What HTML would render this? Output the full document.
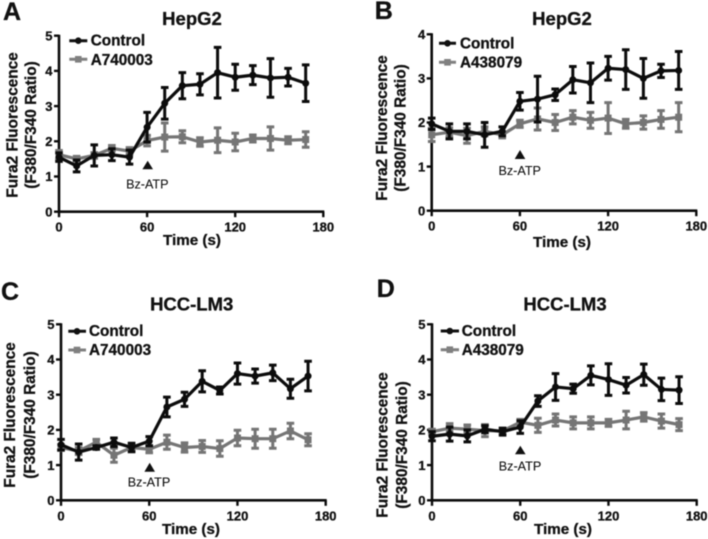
<!DOCTYPE html>
<html lang="en">
<head>
<meta charset="utf-8">
<title>Fura2 Fluorescence panels</title>
<style>
html,body{margin:0;padding:0;background:#fff}
svg{display:block;filter:blur(.4px)}
text{font-family:"Liberation Sans",sans-serif;font-weight:bold;fill:#111;stroke:#111;stroke-width:.3px}
.letter{font-size:25px}
.title{font-size:18.5px;text-anchor:middle}
.ytitle{font-size:15.4px;text-anchor:middle}
.xtitle{font-size:15.2px;text-anchor:middle}
.legend{font-size:15.3px}
.bz{font-size:12.6px;font-weight:normal;text-anchor:middle;stroke-width:.1px}
.tick{font-size:13px}
</style>
</head>
<body>
<svg id="fig" xmlns="http://www.w3.org/2000/svg" width="708" height="539" viewBox="0 0 708 539">
<rect width="708" height="539" fill="#fff"/>

<g id="panel-a">
<text class="letter" x="3" y="20">A</text>
<text class="title" x="192" y="25">HepG2</text>
<text class="ytitle" transform="translate(17.3 125) rotate(-90)">Fura2 Fluorescence</text>
<text class="ytitle" transform="translate(36 125) rotate(-90)">(F380/F340 Ratio)</text>
<text class="xtitle" x="192" y="245">Time (s)</text>
<g>
<line x1="69.3" x2="87.3" y1="40.7" y2="40.7" stroke="#111" stroke-width="3"/><circle cx="78.3" cy="40.7" r="3.3" fill="#111"/>
<text class="legend" x="90.7" y="45.7">Control</text></g>
<g>
<line x1="69.3" x2="87.3" y1="59.3" y2="59.3" stroke="#808080" stroke-width="3"/><rect x="75" y="56" width="6.6" height="6.6" fill="#808080"/>
<text class="legend" x="90.7" y="65">A740003</text></g>
<polygon points="147.7,160.7 153,169.3 142.4,169.3" fill="#111"/>
<text class="bz" x="147.3" y="188.3">Bz-ATP</text>
</g>

<g id="panel-b">
<text class="letter" x="374.7" y="19">B</text>
<text class="title" x="562" y="25">HepG2</text>
<text class="ytitle" transform="translate(387 128) rotate(-90)">Fura2 Fluorescence</text>
<text class="ytitle" transform="translate(405.7 128) rotate(-90)">(F380/F340 Ratio)</text>
<text class="xtitle" x="562" y="247">Time (s)</text>
<g>
<line x1="439" x2="456" y1="43.3" y2="43.3" stroke="#111" stroke-width="3"/><circle cx="447.5" cy="43.3" r="3.3" fill="#111"/>
<text class="legend" x="460" y="48.3">Control</text></g>
<g>
<line x1="439" x2="456" y1="62.3" y2="62.3" stroke="#808080" stroke-width="3"/><rect x="444.2" y="59" width="6.6" height="6.6" fill="#808080"/>
<text class="legend" x="460" y="67.7">A438079</text></g>
<polygon points="520,150 525.3,159 514.7,159" fill="#111"/>
<text class="bz" x="519.7" y="175">Bz-ATP</text>
</g>

<g id="panel-c">
<text class="letter" x="1" y="300">C</text>
<text class="title" x="191.7" y="310.7">HCC-LM3</text>
<text class="ytitle" transform="translate(15 415) rotate(-90)">Fura2 Fluorescence</text>
<text class="ytitle" transform="translate(35 415) rotate(-90)">(F380/F340 Ratio)</text>
<text class="xtitle" x="191" y="534">Time (s)</text>
<g>
<line x1="68.3" x2="86" y1="331.3" y2="331.3" stroke="#111" stroke-width="3"/><circle cx="77" cy="331.3" r="3.3" fill="#111"/>
<text class="legend" x="89" y="336">Control</text></g>
<g>
<line x1="68.3" x2="86" y1="350" y2="350" stroke="#808080" stroke-width="3"/><rect x="73.7" y="346.7" width="6.6" height="6.6" fill="#808080"/>
<text class="legend" x="89" y="355">A740003</text></g>
<polygon points="149.7,462.7 155,471.7 144.4,471.7" fill="#111"/>
<text class="bz" x="149" y="486.7">Bz-ATP</text>
</g>

<g id="panel-d">
<text class="letter" x="376.7" y="297">D</text>
<text class="title" x="565" y="310.7">HCC-LM3</text>
<text class="ytitle" transform="translate(387.3 445) rotate(-90)">Fura2 Fluorescence</text>
<text class="ytitle" transform="translate(407 445) rotate(-90)">(F380/F340 Ratio)</text>
<text class="xtitle" x="563" y="534">Time (s)</text>
<g>
<line x1="440.7" x2="459" y1="331" y2="331" stroke="#111" stroke-width="3"/><circle cx="449.8" cy="331" r="3.3" fill="#111"/>
<text class="legend" x="461.7" y="336">Control</text></g>
<g>
<line x1="440.7" x2="459" y1="349.7" y2="349.7" stroke="#808080" stroke-width="3"/><rect x="446.5" y="346.4" width="6.6" height="6.6" fill="#808080"/>
<text class="legend" x="461.7" y="355">A438079</text></g>
<polygon points="520.3,445.7 525.6,454.3 515,454.3" fill="#111"/>
<text class="bz" x="520" y="470.7">Bz-ATP</text>
</g>
</svg>

<script>
const times = [0,12,24,36,48,60,72,84,96,108,120,132,144,156,168];
const xTickLabels = [0,60,120,180];
const yTickLabelsFive = [0,1,2,3,4,5];
const yTickLabelsFour = [0,1,2,3,4];

const aControl = [1.55,1.3,1.6,1.62,1.55,2.4,3.08,3.58,3.62,3.95,3.82,3.88,3.8,3.82,3.65];
const aControlErr = [.12,.17,.3,.17,.2,.42,.45,.37,.3,.72,.37,.27,.55,.25,.52];
const aTreatment = [1.62,1.5,1.6,1.8,1.72,2.02,2.12,2.13,1.98,2.03,1.98,2.08,2.08,2.03,2.05];
const aTreatmentErr = [.12,.07,.08,.08,.1,.15,.4,.17,.12,.35,.25,.1,.33,.1,.22];

const bControl = [1.97,1.8,1.8,1.72,1.8,2.48,2.53,2.63,2.97,2.9,3.23,3.2,3.0,3.17,3.18];
const bControlErr = [.13,.17,.17,.28,.1,.2,.52,.13,.3,.45,.27,.45,.45,.15,.43];
const bTreatment = [1.72,1.78,1.7,1.8,1.72,1.97,2.08,2.0,2.12,2.05,2.1,1.97,2.0,2.07,2.12];
const bTreatmentErr = [.15,.1,.17,.1,.07,.08,.25,.18,.15,.18,.35,.1,.15,.2,.33];

const cControl = [1.58,1.37,1.5,1.65,1.5,1.68,2.65,2.87,3.38,3.12,3.6,3.53,3.62,3.17,3.53];
const cControlErr = [.15,.23,.05,.12,.12,.13,.28,.2,.3,.1,.3,.2,.22,.27,.42];
const cTreatment = [1.5,1.4,1.65,1.28,1.5,1.45,1.65,1.5,1.53,1.47,1.77,1.75,1.75,1.97,1.72];
const cTreatmentErr = [.08,.1,.08,.2,.1,.1,.2,.13,.17,.22,.22,.27,.27,.22,.17];

const dControl = [1.82,1.88,1.83,2.02,1.95,2.08,2.82,3.22,3.17,3.55,3.43,3.27,3.57,3.15,3.13];
const dControlErr = [.13,.2,.17,.1,.1,.18,.15,.38,.13,.27,.45,.22,.3,.32,.38];
const dTreatment = [1.95,2.05,2.02,1.98,1.97,2.22,2.13,2.28,2.2,2.2,2.2,2.28,2.37,2.25,2.15];
const dTreatmentErr = [.07,.13,.12,.17,.07,.08,.2,.17,.17,.17,.1,.25,.12,.2,.17];

const SVG_NS = 'http://www.w3.org/2000/svg';
const BLACK = '#0c0c0c';
const GRAY = '#757575';

function make(parent, tag, attrs) {
  const el = document.createElementNS(SVG_NS, tag);
  for (const k in attrs) el.setAttribute(k, attrs[k]);
  parent.appendChild(el);
  return el;
}

function drawSeries(group, xs, ys, values, errors, color, isSquare, key) {
  const s = make(group, 'g', {});
  
  
  const pts = values.map((v, i) => xs(times[i]) + ',' + ys(v)).join(' ');
  const line = make(s, 'polyline', {points: pts, fill: 'none', stroke: color, 'stroke-width': 3.2, 'stroke-linejoin': 'round'});
  
  
  values.forEach((v, i) => {
    const x = xs(times[i]);
    const hi = ys(v + errors[i]);
    const lo = ys(v - errors[i]);
    const d = 'M' + x + ' ' + hi + 'V' + lo + 'M' + (x - 3.8) + ' ' + hi + 'H' + (x + 3.8) + 'M' + (x - 3.8) + ' ' + lo + 'H' + (x + 3.8);
    const bar = make(s, 'path', {d: d, fill: 'none', stroke: color, 'stroke-width': 3});
    
    
    let m;
    if (isSquare) {
      m = make(s, 'rect', {x: x - 3.5, y: ys(v) - 3.5, width: 7, height: 7, fill: color});
    } else {
      m = make(s, 'circle', {cx: x, cy: ys(v), r: 3.5, fill: color});
    }
    
    
  });
}

function drawPanel(id, left, right, bottom, top, yTicks, control, controlErr, treatment, treatmentErr) {
  const group = document.getElementById('panel-' + id);
  const yMax = yTicks[yTicks.length - 1];
  const xs = t => left + (right - left) * t / 180;
  const ys = v => bottom - (bottom - top) * v / yMax;

  const yAxis = make(group, 'line', {x1: left, x2: left, y1: top - 1, y2: bottom + 1, stroke: BLACK, 'stroke-width': 2.6});
  
  
  const xAxis = make(group, 'line', {x1: left - 1, x2: right + 1, y1: bottom, y2: bottom, stroke: BLACK, 'stroke-width': 2.6});
  
  

  yTicks.forEach(v => {
    const t = make(group, 'line', {x1: left - 5, x2: left, y1: ys(v), y2: ys(v), stroke: BLACK, 'stroke-width': 2.4});
    
    
    const l = make(group, 'text', {class: 'tick', x: left - 6.5, y: ys(v) + 4.7, 'text-anchor': 'end'});
    
    
    l.textContent = v;
  });
  xTickLabels.forEach(v => {
    const t = make(group, 'line', {x1: xs(v), x2: xs(v), y1: bottom, y2: bottom + 5.5, stroke: BLACK, 'stroke-width': 2.4});
    
    
    const l = make(group, 'text', {class: 'tick', x: xs(v), y: bottom + 20, 'text-anchor': 'middle'});
    
    
    l.textContent = v;
  });

  drawSeries(group, xs, ys, treatment, treatmentErr, GRAY, true, 'treatment-' + id);
  drawSeries(group, xs, ys, control, controlErr, BLACK, false, 'control-' + id);
}

drawPanel('a', 59, 323.3, 211.7, 35.7, yTickLabelsFive, aControl, aControlErr, aTreatment, aTreatmentErr);
drawPanel('b', 431.7, 696.3, 210.7, 34.3, yTickLabelsFour, bControl, bControlErr, bTreatment, bTreatmentErr);
drawPanel('c', 61, 325.7, 500.3, 324.3, yTickLabelsFive, cControl, cControlErr, cTreatment, cTreatmentErr);
drawPanel('d', 432, 696.7, 500.3, 324.3, yTickLabelsFive, dControl, dControlErr, dTreatment, dTreatmentErr);
</script>
</body>
</html>
